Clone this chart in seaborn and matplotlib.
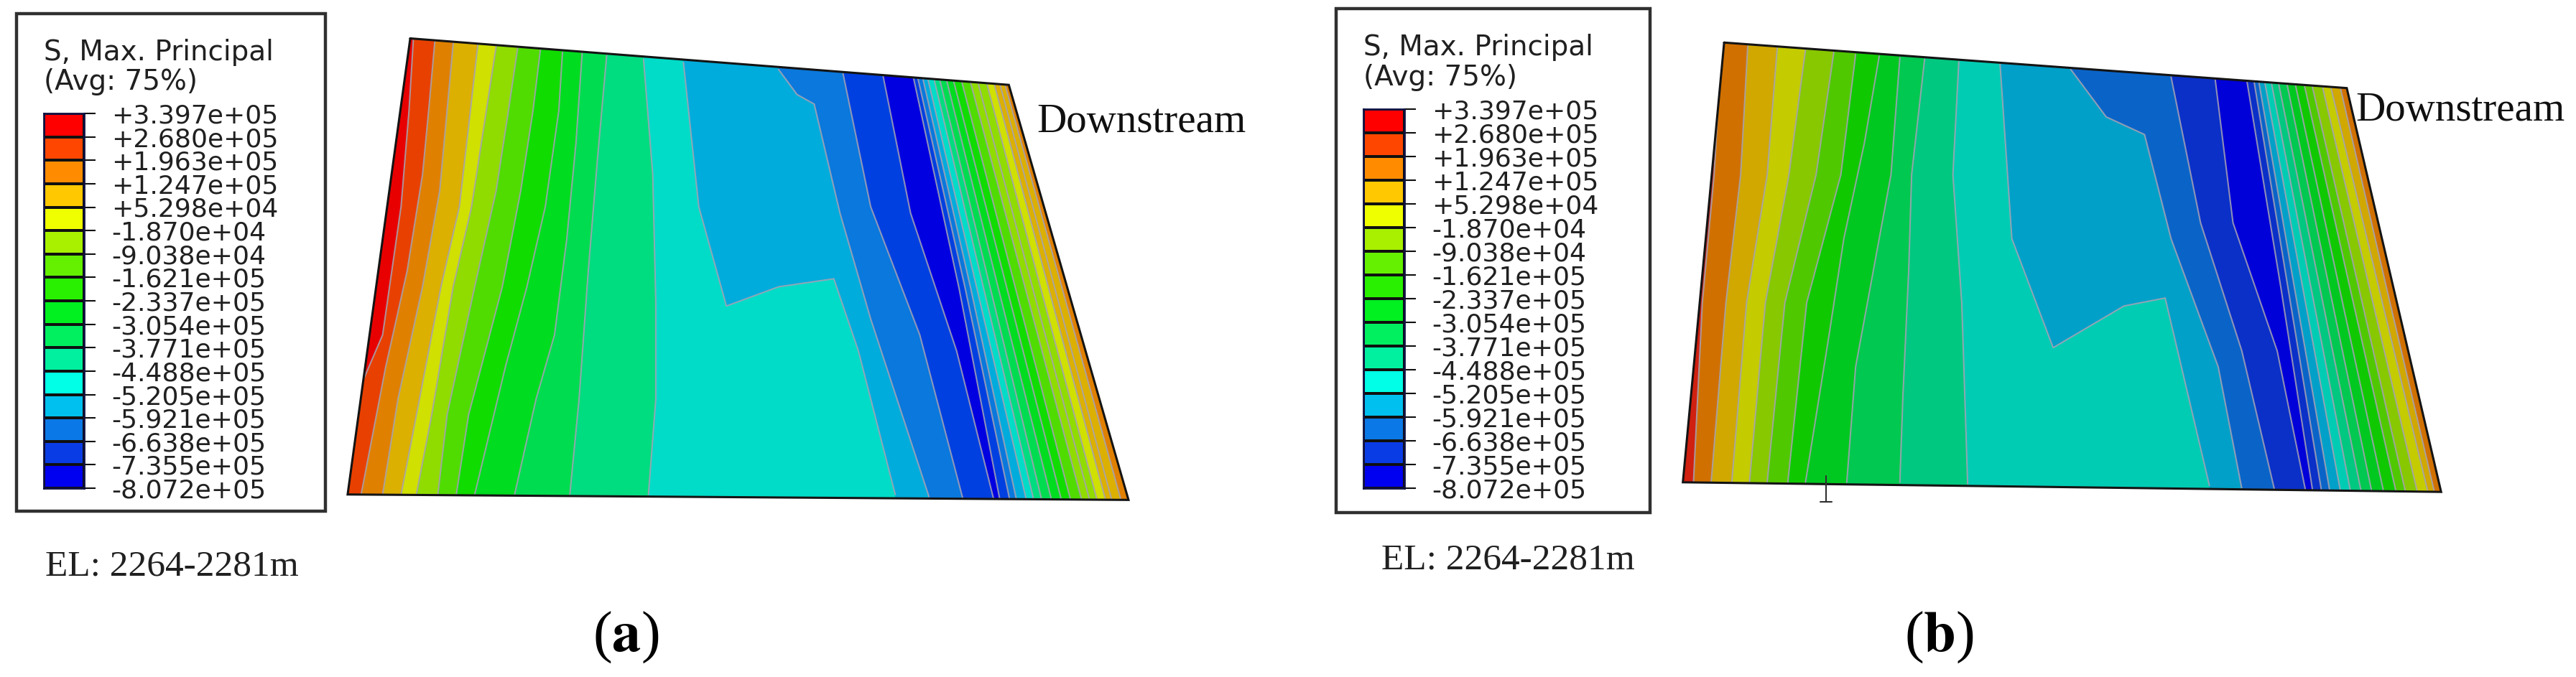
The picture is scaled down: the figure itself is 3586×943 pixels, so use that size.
#!python3

import matplotlib
matplotlib.use("Agg")
import matplotlib.pyplot as plt
from matplotlib.colors import ListedColormap
from matplotlib.patches import Polygon, Rectangle
import numpy as np
import pandas as pd
import seaborn as sns

W, H = 3587, 943

## Legend
LEVELS = ["+3.397e+05", "+2.680e+05", "+1.963e+05", "+1.247e+05", "+5.298e+04", "-1.870e+04",
          "-9.038e+04", "-1.621e+05", "-2.337e+05", "-3.054e+05", "-3.771e+05", "-4.488e+05",
          "-5.205e+05", "-5.921e+05", "-6.638e+05", "-7.355e+05", "-8.072e+05"]
LEGEND_COLOURS = ["#ff0000", "#ff4600", "#ff8c00", "#ffc800", "#f0ff00", "#a8f000", "#64f000", "#28f000",
                  "#00f020", "#00f060", "#00f0a0", "#00ffe6", "#00c0f0", "#0a78e6", "#0a3ce6", "#0000f0"]

## Band colours, same order as the legend
COLOURS_A = ["#e80000", "#e84000", "#e08000", "#dcb000", "#d0e000", "#90dc00", "#50dc00", "#10dc00",
             "#00dc20", "#00dc50", "#00dc80", "#00dcc8", "#00acdc", "#0a78dc", "#0040e0", "#0000e0"]
COLOURS_B = ["#d02010", "#d05000", "#d07000", "#d0a800", "#c4cc00", "#88c800", "#50c800", "#10c800",
             "#00c820", "#00c850", "#00c880", "#00ccb4", "#00a0c8", "#0a64c8", "#0a30c8", "#0000d8"]

## Panel outlines, in crop coordinates (0-1568 both ways)
OUTLINE_A = [(130, 75), (1105, 220), (1300, 1515), (28, 1498)]
OUTLINE_B = [(122, 88), (1178, 230), (1338, 1490), (52, 1460)]

## Contour lines, left to right
BANDS_A = [0, 1, 2, 3, 4, 5, 6, 7, 8, 9, 10, 11, 12, 13, 14, 15, 14, 13, 12, 11, 10, 9, 8, 7, 6, 5, 5, 4, 3, 3, 2]
LINES_A = [
    [(135, 80), (128, 300), (115, 600), (85, 1000), (20, 1290)],
    [(170, 85), (160, 300), (150, 500), (125, 800), (90, 1100), (50, 1498)],
    [(200, 90), (190, 300), (178, 550), (150, 850), (110, 1200), (85, 1498)],
    [(240, 95), (225, 350), (210, 600), (180, 850), (140, 1250), (115, 1498)],
    [(270, 100), (250, 350), (230, 600), (200, 850), (165, 1250), (140, 1498)],
    [(305, 105), (290, 300), (270, 550), (235, 850), (190, 1250), (175, 1498)],
    [(342, 110), (330, 300), (310, 550), (280, 850), (225, 1250), (205, 1498)],
    [(378, 118), (372, 300), (350, 600), (320, 850), (285, 1100), (235, 1498)],
    [(410, 120), (400, 400), (385, 700), (365, 1000), (335, 1200), (300, 1498)],
    [(450, 128), (435, 450), (420, 800), (405, 1200), (390, 1498)],
    [(510, 140), (525, 500), (530, 900), (530, 1200), (518, 1498)],
    [(575, 150), (600, 600), (645, 910), (730, 850), (820, 825), (860, 1050), (920, 1498)],
    [(730, 172), (760, 250), (788, 280), (830, 620), (880, 950), (975, 1505)],
    [(835, 185), (880, 600), (960, 1000), (1030, 1510)],
    [(900, 190), (945, 620), (1020, 1050), (1080, 1510)],
    [(950, 200), (1024, 855), (1090, 1510)],
    [(957, 200), (1034, 855), (1106, 1510)],
    [(965, 200), (1043, 855), (1117, 1510)],
    [(973, 200), (1053, 855), (1133, 1510)],
    [(983, 200), (1064, 855), (1145, 1510)],
    [(992, 200), (1075, 855), (1158, 1510)],
    [(1003, 200), (1088, 855), (1174, 1510)],
    [(1014, 200), (1102, 855), (1190, 1510)],
    [(1027, 200), (1116, 855), (1205, 1510)],
    [(1041, 200), (1132, 855), (1223, 1510)],
    [(1053, 200), (1144, 855), (1236, 1510)],
    [(1067, 200), (1157, 855), (1248, 1510)],
    [(1079, 200), (1170, 855), (1262, 1510)],
    [(1088, 200), (1180, 855), (1272, 1510)],
    [(1096, 200), (1192, 855), (1287, 1510)],
]

BANDS_B = [0, 2, 3, 4, 5, 6, 7, 8, 9, 10, 11, 12, 13, 14, 15, 14, 13, 12, 11, 10, 9, 8, 7, 6, 5, 4, 3, 2]
LINES_B = [
    [(118, 88), (105, 500), (85, 900), (70, 1460)],
    [(162, 100), (150, 500), (125, 900), (100, 1460)],
    [(212, 105), (195, 500), (160, 900), (135, 1460)],
    [(260, 110), (232, 500), (192, 900), (165, 1460)],
    [(308, 118), (278, 500), (225, 900), (195, 1460)],
    [(345, 125), (320, 500), (262, 900), (230, 1460)],
    [(385, 130), (360, 400), (325, 700), (300, 1000), (260, 1460)],
    [(420, 135), (405, 500), (375, 800), (345, 1100), (330, 1460)],
    [(462, 140), (440, 500), (435, 800), (425, 1200), (420, 1460)],
    [(520, 148), (510, 500), (525, 900), (535, 1465)],
    [(590, 155), (610, 700), (680, 1040), (800, 910), (870, 885), (945, 1470)],
    [(710, 172), (770, 320), (835, 375), (880, 700), (960, 1100), (1000, 1480)],
    [(880, 195), (930, 650), (1000, 1050), (1055, 1480)],
    [(955, 205), (985, 650), (1060, 1050), (1108, 1485)],
    [(1009, 212), (1066, 850), (1120, 1485)],
    [(1021, 212), (1078, 850), (1135, 1485)],
    [(1029, 212), (1089, 850), (1149, 1485)],
    [(1039, 212), (1103, 850), (1167, 1485)],
    [(1050, 212), (1117, 850), (1184, 1485)],
    [(1062, 212), (1132, 850), (1202, 1485)],
    [(1076, 212), (1148, 850), (1220, 1485)],
    [(1090, 212), (1165, 850), (1240, 1485)],
    [(1105, 212), (1183, 850), (1261, 1485)],
    [(1118, 212), (1198, 850), (1277, 1485)],
    [(1135, 212), (1216, 850), (1297, 1485)],
    [(1149, 212), (1232, 850), (1315, 1485)],
    [(1165, 212), (1245, 850), (1326, 1485)],
]


def add_axes(fig, x0, y0, x1, y1):
    # pixel box of the reference -> figure fractions
    return fig.add_axes([x0 / W, 1 - y1 / H, (x1 - x0) / W, (y1 - y0) / H])


def draw_panel(ax, outline, lines, bands, colours):
    clip = Polygon(outline, transform=ax.transData)
    ax.set_xlim(0, 1568)
    ax.set_ylim(1568, 0)

    base = ax.fill([p[0] for p in outline], [p[1] for p in outline], color=colours[bands[0]], lw=0)[0]
    base.set_clip_path(clip)

    # paint each band from its left line to the far right, next band goes over it
    for line, band in zip(lines, bands[1:]):
        xs = [line[0][0]] + [p[0] for p in line] + [line[-1][0], 1568, 1568]
        ys = [0] + [p[1] for p in line] + [1568, 1568, 0]
        patch = ax.fill(xs, ys, color=colours[band], lw=0)[0]
        patch.set_clip_path(clip)

    df = pd.DataFrame([(i, x, y) for i, line in enumerate(lines) for x, y in line], columns=["line", "x", "y"])
    n_before = len(ax.lines)
    sns.lineplot(data=df, x="x", y="y", units="line", estimator=None, sort=False,
                 color="#a6a2b4", lw=1.5, alpha=0.85, legend=False, ax=ax)
    for artist in ax.lines[n_before:]:
        artist.set_clip_path(clip)

    corners = outline + outline[:1]
    ax.plot([p[0] for p in corners], [p[1] for p in corners], color="#141414", lw=2.2, solid_joinstyle="miter")
    ax.set_axis_off()


def draw_legend(fig, box, swatch, title_x, title_ys):
    x0, y0, x1, y1 = box
    fig.add_artist(Rectangle((x0 / W, 1 - y1 / H), (x1 - x0) / W, (y1 - y0) / H, transform=fig.transFigure,
                             fill=False, edgecolor="#303030", lw=3.2))
    fig.text(title_x / W, 1 - title_ys[0] / H, "S, Max. Principal", fontsize=28, va="center",
             family="DejaVu Sans", color="#202020")
    fig.text(title_x / W, 1 - title_ys[1] / H, "(Avg: 75%)", fontsize=28, va="center",
             family="DejaVu Sans", color="#202020")

    ax = add_axes(fig, *swatch)
    sns.heatmap(np.arange(len(LEGEND_COLOURS)).reshape(-1, 1), cmap=ListedColormap(LEGEND_COLOURS), cbar=False,
                linewidths=1.6, linecolor="#101010", ax=ax)
    ax.yaxis.tick_right()
    ax.set_yticks(np.arange(len(LEVELS)))
    ax.set_yticklabels(LEVELS, rotation=0, fontsize=26, family="DejaVu Sans", color="#202020")
    ax.set_xticks([])
    ax.tick_params(axis="y", length=11.5, width=1.5, pad=16, color="#101010", right=True, left=False)
    for spine in ax.spines.values():
        spine.set_visible(True)
        spine.set_color("#101040")
        spine.set_linewidth(2)


def main():
    sns.set_theme(style="white")
    fig = plt.figure(figsize=(W / 100, H / 100), dpi=100, facecolor="white")

    draw_panel(add_axes(fig, 460, 20, 1800, 720), OUTLINE_A, LINES_A, BANDS_A, COLOURS_A)
    ax_b = add_axes(fig, 2300, 20, 3587, 720)
    draw_panel(ax_b, OUTLINE_B, LINES_B, BANDS_B, COLOURS_B)
    # text cursor left in the screenshot
    ax_b.plot([295, 295], [1440, 1520], color="#303030", lw=1.5)
    ax_b.plot([285, 305], [1520, 1520], color="#303030", lw=1.5)

    draw_legend(fig, (23, 19, 453, 712), (61, 158, 117, 680), 61, (73, 114))
    draw_legend(fig, (1860, 12, 2297, 714), (1898, 152, 1955, 680), 1898, (66, 108))

    serif = "Liberation Serif"
    fig.text(1443 / W, 1 - 170 / H, "Downstream", fontsize=41, family=serif, va="center", color="#101010")
    fig.text(3279 / W, 1 - 154 / H, "Downstream", fontsize=41, family=serif, va="center", color="#101010")
    fig.text(63 / W, 1 - 789 / H, "EL: 2264-2281m", fontsize=37, family=serif, va="center", color="#202020")
    fig.text(1923 / W, 1 - 780 / H, "EL: 2264-2281m", fontsize=37, family=serif, va="center", color="#202020")

    # only the letter is bold in the panel tags
    for x, y, letter in [(871, 888, "a"), (2699, 888, "b")]:
        fig.text(x / W, 1 - y / H, rf"($\mathbf{{{letter}}}$)", fontsize=58, family=serif, ha="center", va="center",
                 math_fontfamily="stix", color="#000000")

    fig.savefig("out.png", dpi=100)


if __name__ == '__main__':
    main()
